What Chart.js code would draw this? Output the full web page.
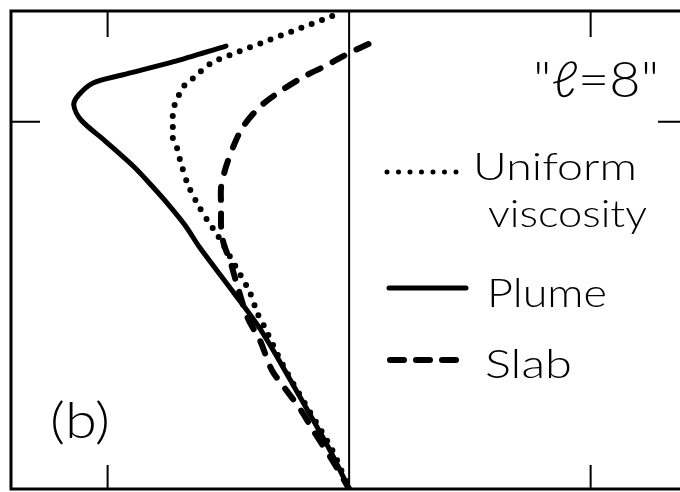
<!DOCTYPE html>
<html>
<head>
<meta charset="utf-8">
<script src="https://cdn.jsdelivr.net/npm/chart.js@4/dist/chart.umd.min.js"></script>
<style>
    html, body { margin: 0; padding: 0; background: #fff; }
    #wrap { position: relative; width: 680px; height: 492px; }
</style>
</head>
<body>
<div id="wrap"><canvas id="kernelChart" width="680" height="492"></canvas></div>
<script>
// Kernel profiles vs. depth (km), degree 8. x is in units of the tick spacing.
const plumeX     = [-0.51, -0.73, -0.94, -1.06, -1.12, -1.14, -1.11, -1.01, -0.89, -0.82, -0.75, -0.68, -0.62, -0.48, -0.36, -0.22, -0.08, 0];
const plumeDepth = [212, 308, 387, 435, 508, 568, 659, 786, 943, 1052, 1167, 1294, 1427, 1699, 1941, 2291, 2654, 2890];

const uniformX     = [-0.07, -0.20, -0.33, -0.46, -0.57, -0.64, -0.68, -0.70, -0.72, -0.73, -0.73, -0.73, -0.71, -0.70, -0.67, -0.63, -0.58, -0.55, -0.45, -0.41, -0.38, -0.35, -0.27, -0.16, -0.07, 0];
const uniformDepth = [30, 103, 175, 248, 314, 399, 447, 496, 556, 629, 701, 768, 840, 901, 1040, 1161, 1282, 1342, 1596, 1705, 1826, 1911, 2152, 2430, 2654, 2890];

const slabX     = [0.08, 0, -0.09, -0.19, -0.29, -0.37, -0.44, -0.48, -0.51, -0.53, -0.53, -0.53, -0.52, -0.49, -0.47, -0.42, -0.37, -0.32, -0.27, -0.20, -0.15, -0.07, 0];
const slabDepth = [200, 254, 326, 399, 490, 580, 701, 822, 943, 1064, 1185, 1306, 1403, 1524, 1626, 1856, 1989, 2171, 2273, 2412, 2533, 2715, 2890];

// axis ticks
const xTicks = [-1, 1];
const depthTicks = [670];

const X_MIN = -1.4;
const X_MAX = 1.37;
const DEPTH_MAX = 2890;

const FONT = "'Lato', 'DejaVu Sans', sans-serif";

function toPoints(xs, ds) {
    return xs.map((v, i) => ({ x: v, y: ds[i] }));
}

// line styles shared by the curves and the legend samples
const styles = {
    uniform: { width: 6, dash: [0, 11], cap: "round" },
    plume:   { width: 5, dash: [], cap: "round" },
    slab:    { width: 6, dash: [13, 14], cap: "round" }
};

function lineDataset(label, xs, ds, st) {
    return {
        label,
        data: toPoints(xs, ds),
        showLine: true,
        borderColor: "#000",
        borderWidth: st.width,
        borderDash: st.dash,
        borderCapStyle: st.cap,
        borderJoinStyle: "round",
        pointRadius: 0,
        tension: 0.3,
        fill: false
    };
}

// Frame, zero line and inward ticks
const framePlugin = {
    id: "frame",
    beforeDatasetsDraw(chart) {
        const { ctx, chartArea: a, scales: { x, y } } = chart;
        ctx.save();
        ctx.strokeStyle = "#000";
        ctx.lineCap = "butt";

        ctx.lineWidth = 3;
        ctx.beginPath();
        ctx.moveTo(a.right + 4, a.top);
        ctx.lineTo(a.left, a.top);
        ctx.lineTo(a.left, a.bottom);
        ctx.lineTo(a.right + 4, a.bottom);
        ctx.stroke();

        ctx.lineWidth = 2;
        const x0 = x.getPixelForValue(0);
        ctx.beginPath();
        ctx.moveTo(x0, a.top);
        ctx.lineTo(x0, a.bottom);
        ctx.stroke();

        xTicks.forEach(v => {
            const px = x.getPixelForValue(v);
            ctx.beginPath();
            ctx.moveTo(px, a.top);
            ctx.lineTo(px, a.top + 26);
            ctx.moveTo(px, a.bottom);
            ctx.lineTo(px, a.bottom - 24);
            ctx.stroke();
        });

        depthTicks.forEach(d => {
            const py = y.getPixelForValue(d);
            ctx.beginPath();
            ctx.moveTo(a.left, py);
            ctx.lineTo(a.left + 29, py);
            ctx.moveTo(a.right - 22, py);
            ctx.lineTo(a.right, py);
            ctx.stroke();
        });
        ctx.restore();
    }
};

// draw text squeezed/stretched to a given width
function fitText(ctx, text, left, baseline, width, size) {
    ctx.font = `300 ${size}px ${FONT}`;
    const w = ctx.measureText(text).width;
    ctx.save();
    ctx.translate(left, baseline);
    ctx.scale(width / w, 1);
    ctx.fillText(text, 0, 0);
    ctx.restore();
}

function sampleLine(ctx, st, x1, x2, y) {
    ctx.save();
    ctx.strokeStyle = "#000";
    ctx.lineWidth = st.width;
    ctx.lineCap = st.cap;
    ctx.setLineDash(st.dash);
    ctx.beginPath();
    ctx.moveTo(x1, y);
    ctx.lineTo(x2, y);
    ctx.stroke();
    ctx.restore();
}

// Legend and panel labels
const labelPlugin = {
    id: "labels",
    afterDatasetsDraw(chart) {
        const { ctx } = chart;
        ctx.save();
        ctx.fillStyle = "#000";
        ctx.textBaseline = "alphabetic";

        fitText(ctx, "\"\u2113=8\"", 533, 97, 126, 50);

        sampleLine(ctx, { width: 5, dash: [0, 11.5], cap: "round" }, 387, 466, 172);
        fitText(ctx, "Uniform", 473, 180, 164, 38);
        fitText(ctx, "viscosity", 488, 227, 159, 38);

        sampleLine(ctx, styles.plume, 389, 466, 288);
        fitText(ctx, "Plume", 487, 307, 120, 40);

        sampleLine(ctx, { width: 6, dash: [14, 12], cap: "round" }, 390, 463, 360);
        fitText(ctx, "Slab", 485, 378, 87, 40);

        fitText(ctx, "(b)", 50, 438, 60, 50);
        ctx.restore();
    }
};

new Chart(document.getElementById("kernelChart"), {
    type: "scatter",
    data: {
        datasets: [
            lineDataset("Uniform viscosity", uniformX, uniformDepth, styles.uniform),
            lineDataset("Slab", slabX, slabDepth, styles.slab),
            lineDataset("Plume", plumeX, plumeDepth, styles.plume)
        ]
    },
    options: {
        responsive: false,
        animation: false,
        layout: { padding: { left: 11, top: 11, right: 0, bottom: 3 } },
        plugins: {
            legend: { display: false },
            tooltip: { enabled: false }
        },
        scales: {
            x: { type: "linear", min: X_MIN, max: X_MAX, display: false },
            y: { type: "linear", min: 0, max: DEPTH_MAX, reverse: true, display: false }
        }
    },
    plugins: [framePlugin, labelPlugin]
});
</script>
</body>
</html>
